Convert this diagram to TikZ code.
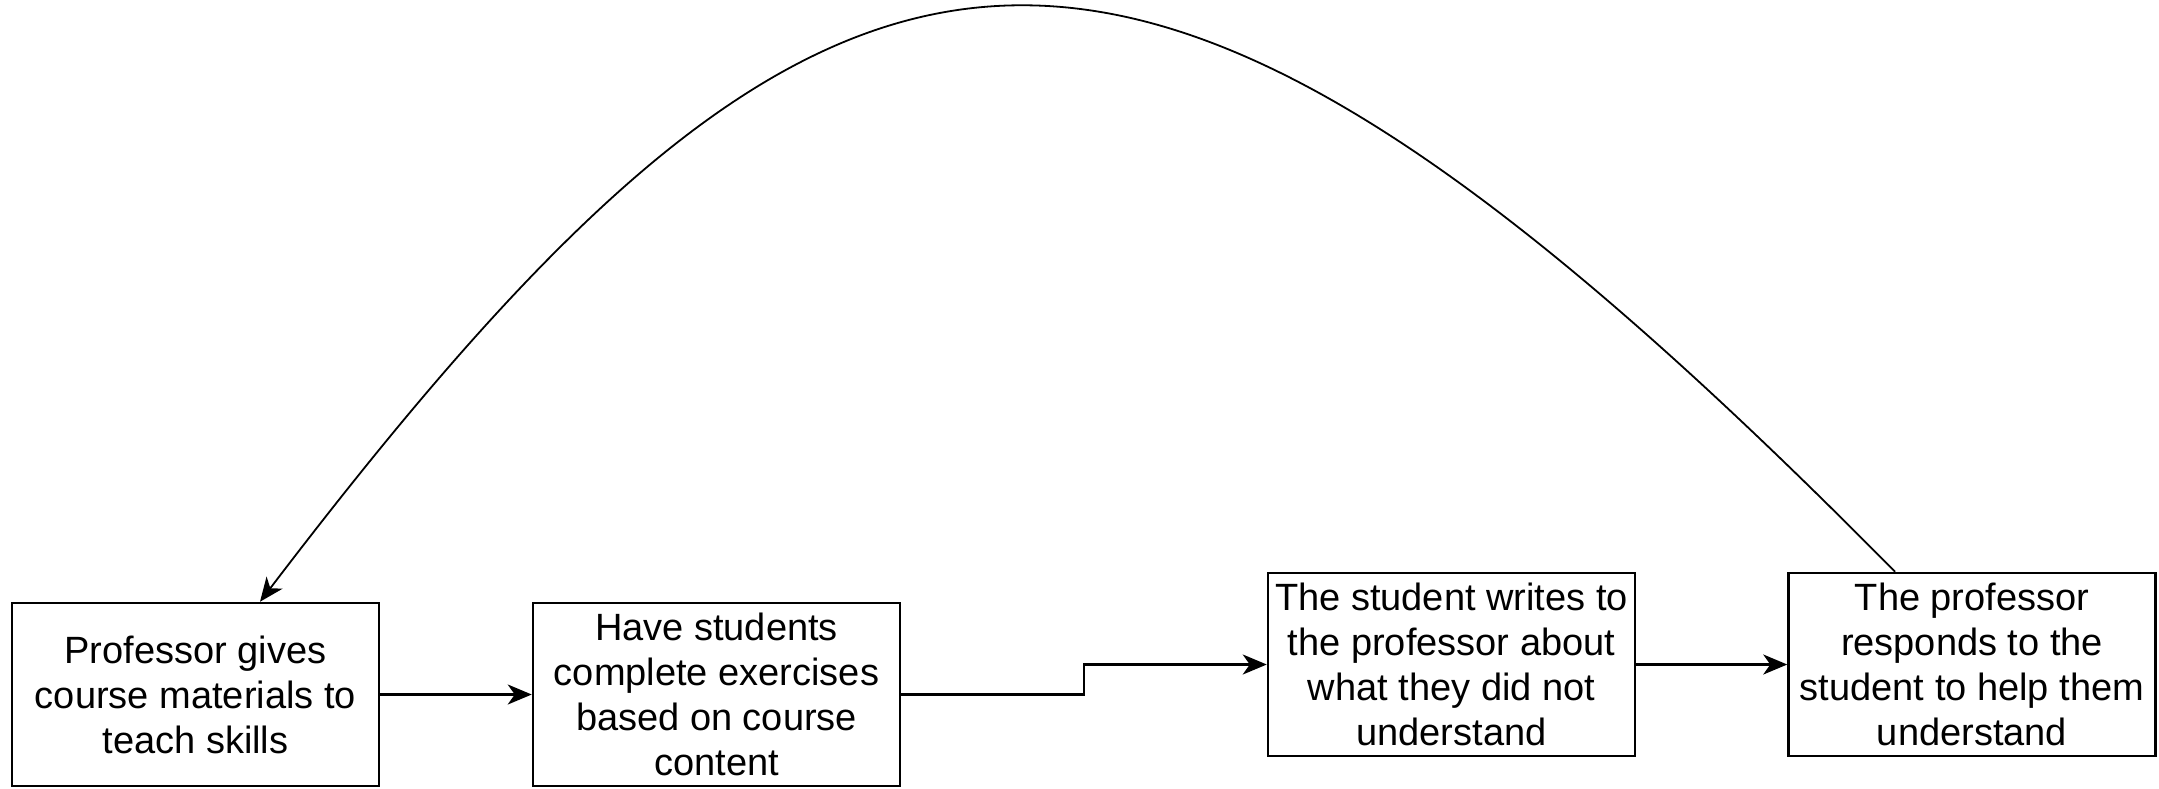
\documentclass[tikz,border=0pt]{standalone}
\usepackage{fontspec}
\setmainfont{Liberation Sans}
\usetikzlibrary{arrows.meta,calc}
\begin{document}
\begin{tikzpicture}[x=1pt,y=-1pt,
  box/.style={draw=black,line width=2.5pt,fill=white,minimum width=367pt,minimum height=183pt,
    inner sep=0pt,align=center,font=\fontsize{38}{45}\selectfont},
  arr/.style={line width=2.5pt,-{Stealth[length=24pt,width=20pt,inset=7pt]}},
  curve/.style={line width=1.8pt,-{Stealth[length=24pt,width=20pt,inset=7pt]}}]
\useasboundingbox (0,0) rectangle (2159,788);
\node[box] (b1) at (195.5,694.5) {Professor gives\\course materials to\\teach skills};
\node[box] (b2) at (716.5,694.5) {Have students\\complete exercises\\based on course\\content};
\node[box] (b3) at (1451.5,664.5) {The student writes to\\the professor about\\what they did not\\understand};
\node[box] (b4) at (1972,664.5) {The professor\\responds to the\\student to help them\\understand};
\draw[arr] (b1.east) -- (b2.west);
\coordinate (m) at ($(b2.east)!0.5!(b3.west)$);
\draw[arr] (b2.east) -- (b2.east -| m) -- (m |- b3.west) -- (b3.west);
\draw[arr] (b3.east) -- (b4.west);
\coordinate (s) at ([xshift=-77pt]b4.north);
\coordinate (e) at ([xshift=64.5pt]b1.north);
\draw[curve] (s) .. controls (1121,-212) and (840,-160) .. (e);
\end{tikzpicture}
\end{document}
